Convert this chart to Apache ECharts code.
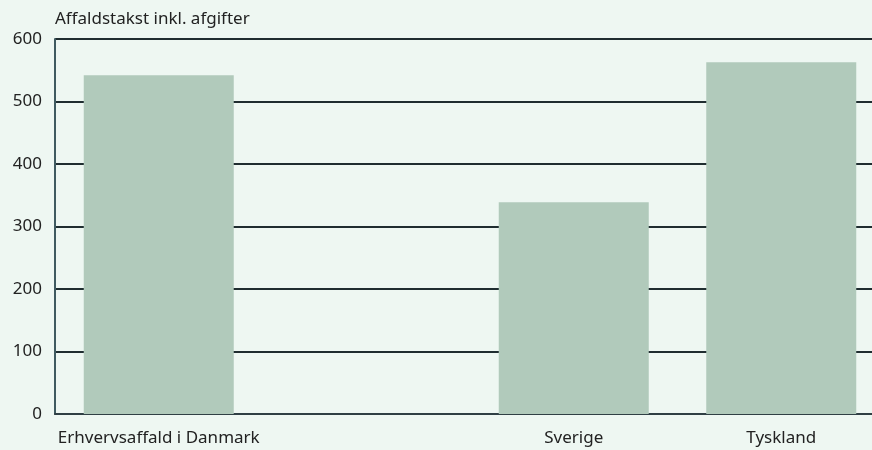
<!DOCTYPE html>
<html>
<head>
<meta charset="utf-8">
<script src="https://cdn.jsdelivr.net/npm/echarts@6/dist/echarts.min.js"></script>
<style>
html,body{margin:0;padding:0;background:#eef7f2;overflow:hidden;}
#c{width:872px;height:450px;}
</style>
</head>
<body>
<div id="c"></div>
<script>
const categories = ['Erhvervsaffald i Danmark', '', 'Sverige', 'Tyskland'];
const values = [542, null, 339, 563];
const yTicks = [0, 100, 200, 300, 400, 500, 600];
const yTitle = 'Affaldstakst inkl. afgifter';

const chart = echarts.init(document.getElementById('c'), null, {renderer: 'canvas'});
const FONT = 'Noto Sans';
chart.setOption({
  backgroundColor: '#eef7f2',
  animation: false,
  grid: {left: 55, width: 830, top: 39, height: 375, containLabel: false, outerBoundsMode: 'none'},
  xAxis: {
    type: 'category',
    data: categories,
    axisLine: {show: true, lineStyle: {color: '#2f3f44', width: 2}},
    axisTick: {show: false},
    axisLabel: {color: '#222', fontFamily: FONT, fontSize: 17, margin: 16, interval: 0}
  },
  yAxis: {
    type: 'value',
    min: yTicks[0],
    max: yTicks[yTicks.length - 1],
    interval: 100,
    name: yTitle,
    nameLocation: 'end',
    nameGap: 11,
    nameTextStyle: {color: '#222', fontFamily: FONT, fontSize: 17, align: 'left'},
    axisLine: {show: true, lineStyle: {color: '#3f5a60', width: 2}},
    axisTick: {show: false},
    axisLabel: {color: '#222', fontFamily: FONT, fontSize: 17, margin: 13},
    splitLine: {show: true, lineStyle: {color: '#1f2d30', width: 2}}
  },
  series: [{
    type: 'bar',
    data: values,
    barWidth: 150,
    itemStyle: {color: '#b1cabb'},
    z: 3
  }]
});
</script>
</body>
</html>
